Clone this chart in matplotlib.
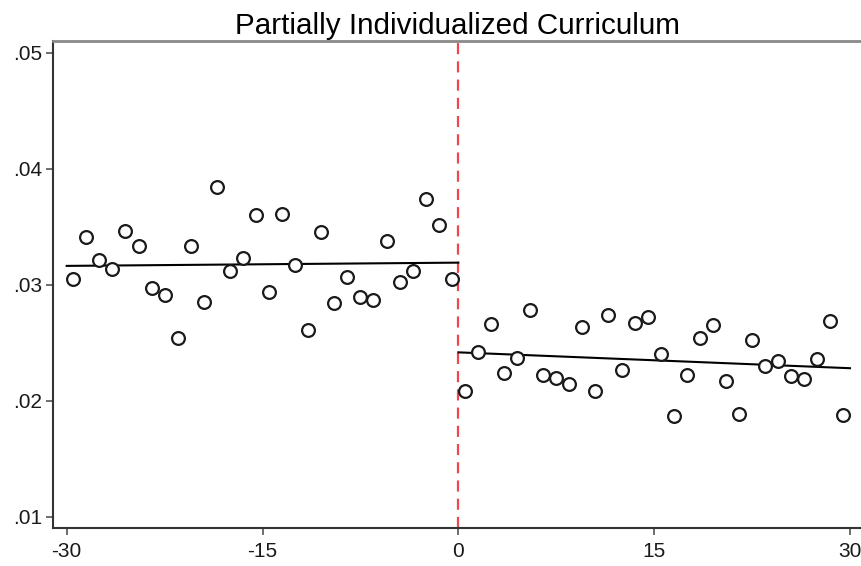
import numpy as np
import matplotlib
matplotlib.use("Agg")
import matplotlib.pyplot as plt

plt.rcParams["font.family"] = ["Liberation Sans", "DejaVu Sans"]

# ── Data (binned means) ───────────────────────────────────────────────────────
x_left = np.arange(-29.5, 0, 1.0)
y_left = [0.03049, 0.03416, 0.03216, 0.03138, 0.03463, 0.03336, 0.02974, 0.02916,
          0.02543, 0.03334, 0.02851, 0.03847, 0.03123, 0.03230, 0.03603, 0.02937,
          0.03615, 0.03172, 0.02609, 0.03454, 0.02848, 0.03072, 0.02899, 0.02868,
          0.03382, 0.03026, 0.03123, 0.03744, 0.03515, 0.03049]

x_right = np.arange(0.5, 30, 1.0)
y_right = [0.02084, 0.02420, 0.02661, 0.02244, 0.02371, 0.02784, 0.02227, 0.02198,
           0.02147, 0.02635, 0.02084, 0.02741, 0.02267, 0.02670, 0.02724, 0.02405,
           0.01873, 0.02227, 0.02546, 0.02652, 0.02172, 0.01885, 0.02523, 0.02304,
           0.02342, 0.02216, 0.02187, 0.02362, 0.02690, 0.01882]

xticks = [-30, -15, 0, 15, 30]
yticks = [0.01, 0.02, 0.03, 0.04, 0.05]
ytick_labels = [".01", ".02", ".03", ".04", ".05"]

# ── Figure ────────────────────────────────────────────────────────────────────
fig = plt.figure(figsize=(8.62, 5.66), dpi=100)
ax = fig.add_axes([53 / 862, 1 - 528 / 566, 1 - 53 / 862, (528 - 41) / 566])

mk = dict(marker="o", markersize=9.2, markerfacecolor="white",
          markeredgecolor="#1a1a1a", markeredgewidth=1.6, linestyle="none")
ax.plot(x_left, y_left, **mk, zorder=3)
ax.plot(x_right, y_right, **mk, zorder=3)

# linear fits on each side of the cutoff
for xs, ys, lo, hi in [(x_left, y_left, -30, 0), (x_right, y_right, 0, 30)]:
    m, b = np.polyfit(xs, ys, 1)
    xx = np.array([lo, hi])
    ax.plot(xx, m * xx + b, color="black", linewidth=1.5, zorder=2)

ax.axvline(0, color="#f0464e", linewidth=1.6, dashes=(5, 3.2), zorder=1)

ax.set_xlim(-31.05, 30.92)
ax.set_ylim(0.00905, 0.05103)
ax.set_xticks(xticks)
ax.set_xticklabels([str(t) for t in xticks])
ax.set_yticks(yticks)
ax.set_yticklabels(ytick_labels)
ax.tick_params(axis="both", direction="out", length=5, width=1.2,
               color="#555555", labelsize=15, labelcolor="#1a1a1a")
ax.tick_params(axis="x", pad=5)
ax.tick_params(axis="y", pad=3)

ax.spines["right"].set_visible(False)
ax.spines["top"].set_color("#8a8a8a")
ax.spines["top"].set_linewidth(2)
for s in ["left", "bottom"]:
    ax.spines[s].set_color("#333333")
    ax.spines[s].set_linewidth(1.5)

ax.set_title("Partially Individualized Curriculum", fontsize=21.3, color="black", pad=5)

fig.savefig("out.png", dpi=100)
